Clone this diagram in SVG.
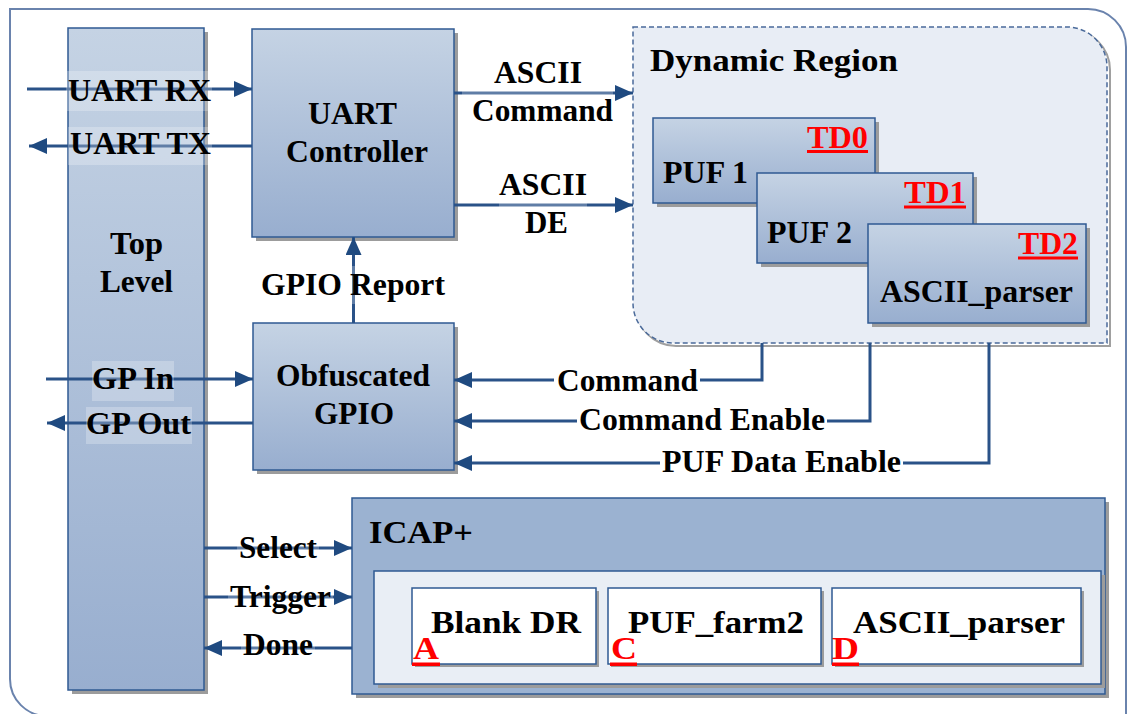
<svg xmlns="http://www.w3.org/2000/svg" width="1128" height="714" viewBox="0 0 1128 714">
  <defs>
    <linearGradient id="blockFill" x1="0" y1="0" x2="0" y2="1">
      <stop offset="0" stop-color="#c5d3e4"/>
      <stop offset="1" stop-color="#98aecf"/>
    </linearGradient>
    <marker id="arrow" markerUnits="userSpaceOnUse" markerWidth="18" markerHeight="16" refX="18" refY="8" orient="auto">
      <path d="M0,0 L18,8 L0,16 Z" fill="#1f4a80"/>
    </marker>
    <style>
      text { font-family: "Liberation Serif", "Times New Roman", serif; font-weight: bold; font-size: 31.5px; fill: #000; }
      .red { fill: #ff0000; }
      .block { fill: url(#blockFill); stroke: #2f5a92; stroke-width: 1.5; }
      .shadow { fill: #9c9c9c; }
      .white { fill: #ffffff; stroke: #2f5a92; stroke-width: 1.5; }
      .wire { fill: none; stroke: #2a5288; stroke-width: 3; }
      .arr { marker-end: url(#arrow); }
      .halo { fill: #ffffff; opacity: 0.25; }
      .solid { fill: #ffffff; }
      .uline { fill: #ff0000; }
    </style>
  </defs>

  <rect width="1128" height="714" fill="#ffffff"/>

  <!-- outer frame -->
  <path d="M10,9 H1088 A38,38 0 0 1 1126,47 V716 H47 A37,37 0 0 1 10,679 Z" fill="none" stroke="#6a83ad" stroke-width="2"/>

  <!-- dynamic region -->
  <g id="dynamic-region">
    <path d="M636,30 H1070 A40,40 0 0 1 1110,70 V346 H676 A40,40 0 0 1 636,306 Z" fill="none" stroke="#a0a0a0" stroke-width="2"/>
    <path d="M633,27 H1067 A40,40 0 0 1 1107,67 V343 H673 A40,40 0 0 1 633,303 Z" fill="#e8edf5" stroke="#4a6a9a" stroke-width="1.5" stroke-dasharray="5 3"/>
    <text x="650" y="71" textLength="248" lengthAdjust="spacingAndGlyphs">Dynamic Region</text>
  </g>

  <g id="puf1">
    <rect class="shadow" x="657" y="122" width="222" height="85"/>
    <rect class="block" x="653" y="118" width="222" height="85"/>
    <text class="red" x="807" y="147.5" textLength="61" lengthAdjust="spacingAndGlyphs">TD0</text>
    <rect class="uline" x="807" y="150" width="61" height="3"/>
    <text x="663" y="183" textLength="85" lengthAdjust="spacingAndGlyphs">PUF 1</text>
  </g>

  <g id="puf2">
    <rect class="shadow" x="761" y="177" width="216" height="90"/>
    <rect class="block" x="757" y="173" width="216" height="90"/>
    <text class="red" x="904" y="202.5" textLength="62" lengthAdjust="spacingAndGlyphs">TD1</text>
    <rect class="uline" x="904" y="205.5" width="62" height="3"/>
    <text x="767" y="243" textLength="85" lengthAdjust="spacingAndGlyphs">PUF 2</text>
  </g>

  <g id="ascii-parser-td2">
    <rect class="shadow" x="872" y="228" width="218" height="99"/>
    <rect class="block" x="868" y="224" width="218" height="99"/>
    <text class="red" x="1018" y="254" textLength="60" lengthAdjust="spacingAndGlyphs">TD2</text>
    <rect class="uline" x="1018" y="256.5" width="60" height="3"/>
    <text x="880" y="302" textLength="193" lengthAdjust="spacingAndGlyphs">ASCII_parser</text>
  </g>

  <g id="top-level">
    <rect class="shadow" x="72" y="32" width="136" height="662"/>
    <rect class="block" x="68" y="28" width="136" height="662"/>
    <text x="110" y="254" textLength="53" lengthAdjust="spacingAndGlyphs">Top</text>
    <text x="100" y="292" textLength="73" lengthAdjust="spacingAndGlyphs">Level</text>
  </g>

  <g id="uart-controller">
    <rect class="shadow" x="256" y="33" width="202" height="208"/>
    <rect class="block" x="252" y="29" width="202" height="208"/>
    <text x="308" y="124" textLength="89" lengthAdjust="spacingAndGlyphs">UART</text>
    <text x="286" y="162" textLength="142" lengthAdjust="spacingAndGlyphs">Controller</text>
  </g>

  <g id="obfuscated-gpio">
    <rect class="shadow" x="257" y="327" width="201" height="147"/>
    <rect class="block" x="253" y="323" width="201" height="147"/>
    <text x="276" y="386" textLength="154" lengthAdjust="spacingAndGlyphs">Obfuscated</text>
    <text x="314" y="424" textLength="80" lengthAdjust="spacingAndGlyphs">GPIO</text>
  </g>

  <g id="icap">
    <rect class="shadow" x="356" y="502" width="753" height="196"/>
    <rect x="352" y="498" width="753" height="196" fill="#9bb2d1" stroke="#2f5a92" stroke-width="1.5"/>
    <text x="369" y="543" textLength="104" lengthAdjust="spacingAndGlyphs">ICAP+</text>
    <rect class="shadow" x="378" y="575" width="727" height="113"/>
    <rect x="374" y="571" width="727" height="113" fill="#e9eef5" stroke="#2f5a92" stroke-width="1.5"/>
  </g>

  <g id="blank-dr">
    <rect class="shadow" x="415" y="591" width="184" height="76"/>
    <rect class="white" x="412" y="588" width="184" height="76"/>
    <text x="431" y="633" textLength="150" lengthAdjust="spacingAndGlyphs">Blank DR</text>
    <text class="red" x="413" y="659" font-size="34" textLength="26" lengthAdjust="spacingAndGlyphs">A</text>
    <rect class="uline" x="412" y="662.5" width="28" height="3.5"/>
  </g>

  <g id="puf-farm2">
    <rect class="shadow" x="611" y="591" width="213" height="76"/>
    <rect class="white" x="608" y="588" width="213" height="76"/>
    <text x="628" y="633" textLength="176" lengthAdjust="spacingAndGlyphs">PUF_farm2</text>
    <text class="red" x="611" y="659" font-size="34" textLength="26" lengthAdjust="spacingAndGlyphs">C</text>
    <rect class="uline" x="610" y="662.5" width="27" height="3.5"/>
  </g>

  <g id="ascii-parser-bitstream">
    <rect class="shadow" x="835" y="591" width="249" height="76"/>
    <rect class="white" x="832" y="588" width="249" height="76"/>
    <text x="853" y="633" textLength="212" lengthAdjust="spacingAndGlyphs">ASCII_parser</text>
    <text class="red" x="832" y="659" font-size="34" textLength="27" lengthAdjust="spacingAndGlyphs">D</text>
    <rect class="uline" x="832" y="662.5" width="27" height="3.5"/>
  </g>

  <g id="connectors">
    <!-- UART pins -->
    <line class="wire arr" x1="27" y1="89" x2="252" y2="89"/>
    <rect class="halo" x="66" y="71" width="146" height="40"/>
    <text x="68" y="101" textLength="143" lengthAdjust="spacingAndGlyphs">UART RX</text>

    <line class="wire arr" x1="252" y1="146" x2="29" y2="146"/>
    <rect class="halo" x="68" y="127" width="144" height="38"/>
    <text x="70" y="154" textLength="141" lengthAdjust="spacingAndGlyphs">UART TX</text>

    <!-- controller to dynamic region -->
    <line class="wire arr" x1="454" y1="93" x2="633" y2="93"/>
    <rect class="halo" x="462" y="88" width="151" height="40"/>
    <text x="494" y="83" textLength="88" lengthAdjust="spacingAndGlyphs">ASCII</text>
    <text x="472" y="121" textLength="141" lengthAdjust="spacingAndGlyphs">Command</text>

    <line class="wire arr" x1="454" y1="205" x2="633" y2="205"/>
    <rect class="halo" x="499" y="172" width="88" height="36"/>
    <text x="499" y="195" textLength="88" lengthAdjust="spacingAndGlyphs">ASCII</text>
    <text x="525" y="233" textLength="43" lengthAdjust="spacingAndGlyphs">DE</text>

    <!-- GPIO report -->
    <line class="wire arr" x1="353.5" y1="323" x2="353.5" y2="237"/>
    <rect class="halo" x="259" y="266" width="188" height="38"/>
    <text x="261" y="295" textLength="184" lengthAdjust="spacingAndGlyphs">GPIO Report</text>

    <!-- general purpose pins -->
    <line class="wire arr" x1="46" y1="379" x2="253" y2="379"/>
    <rect class="halo" x="92" y="361" width="82" height="40"/>
    <text x="92" y="389" textLength="82" lengthAdjust="spacingAndGlyphs">GP In</text>

    <line class="wire arr" x1="253" y1="423" x2="47" y2="423"/>
    <rect class="halo" x="86" y="407" width="106" height="37"/>
    <text x="86" y="434" textLength="105" lengthAdjust="spacingAndGlyphs">GP Out</text>

    <!-- dynamic region back to obfuscated GPIO -->
    <polyline class="wire arr" points="762,343 762,380 454,380"/>
    <rect class="solid" x="554" y="364" width="146" height="34"/>
    <text x="557" y="391" textLength="141" lengthAdjust="spacingAndGlyphs">Command</text>

    <polyline class="wire arr" points="870,343 870,421 454,421"/>
    <rect class="solid" x="577" y="404" width="250" height="34"/>
    <text x="579" y="430" textLength="246" lengthAdjust="spacingAndGlyphs">Command Enable</text>

    <polyline class="wire arr" points="989,343 989,463 454,463"/>
    <rect class="solid" x="660" y="446" width="243" height="34"/>
    <text x="662" y="472" textLength="239" lengthAdjust="spacingAndGlyphs">PUF Data Enable</text>

    <!-- ICAP control -->
    <line class="wire arr" x1="204" y1="548" x2="352" y2="548"/>
    <rect class="halo" x="237" y="530" width="82" height="36"/>
    <text x="239" y="558" textLength="78" lengthAdjust="spacingAndGlyphs">Select</text>

    <line class="wire arr" x1="204" y1="597" x2="352" y2="597"/>
    <rect class="halo" x="228" y="579" width="105" height="36"/>
    <text x="230" y="607" textLength="101" lengthAdjust="spacingAndGlyphs">Trigger</text>

    <line class="wire arr" x1="352" y1="648" x2="204" y2="648"/>
    <rect class="halo" x="241" y="630" width="74" height="34"/>
    <text x="243" y="655" textLength="70" lengthAdjust="spacingAndGlyphs">Done</text>
  </g>
</svg>
